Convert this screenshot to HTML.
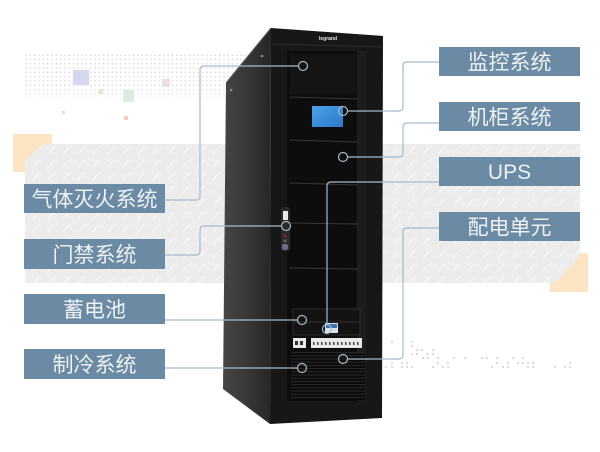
<!DOCTYPE html>
<html>
<head>
<meta charset="utf-8">
<style>
html,body{margin:0;padding:0;background:#fff;}
svg{display:block;}
.lbl{font-family:"Liberation Sans","Noto Sans CJK SC",sans-serif;font-size:21px;fill:#eef2f5;}
</style>
</head>
<body>
<svg width="600" height="452" viewBox="0 0 600 452" xmlns="http://www.w3.org/2000/svg">
  <defs>
    <pattern id="dots" x="25" y="54" width="4.3" height="4.3" patternUnits="userSpaceOnUse">
      <circle cx="1.2" cy="1.2" r="0.85" fill="#d6d6d6"/>
    </pattern>
    <linearGradient id="fade" x1="0" y1="0" x2="0" y2="1">
      <stop offset="0" stop-color="#fff" stop-opacity="1"/>
      <stop offset="0.7" stop-color="#fff" stop-opacity="0.9"/>
      <stop offset="1" stop-color="#fff" stop-opacity="0.3"/>
    </linearGradient>
    <mask id="fmask">
      <rect x="0" y="50" width="260" height="52" fill="url(#fade)"/>
    </mask>
    <pattern id="tex" x="0" y="0" width="15" height="13" patternUnits="userSpaceOnUse">
      <rect width="15" height="13" fill="#ececec"/>
      <line x1="3" y1="11" x2="9" y2="4" stroke="#fafafa" stroke-width="1"/>
      <line x1="10" y1="6" x2="12" y2="3" stroke="#f6f6f6" stroke-width="0.8"/>
    </pattern>
    <linearGradient id="side" x1="0" y1="0" x2="1" y2="0">
      <stop offset="0" stop-color="#454545"/>
      <stop offset="0.5" stop-color="#383838"/>
      <stop offset="1" stop-color="#262626"/>
    </linearGradient>
    <linearGradient id="scr" x1="0" y1="0" x2="1" y2="1">
      <stop offset="0" stop-color="#4aa2ea"/>
      <stop offset="1" stop-color="#2d78c8"/>
    </linearGradient>
    <pattern id="vent" x="0" y="352" width="4" height="3.2" patternUnits="userSpaceOnUse">
      <rect width="4" height="3.2" fill="#0b0b0b"/>
      <rect y="0" width="4" height="1.2" fill="#262626"/>
    </pattern>
  </defs>

  <!-- top-left dot grid -->
  <rect x="25" y="54" width="228" height="46" fill="url(#dots)" mask="url(#fmask)"/>
  <rect x="73" y="70" width="16" height="15" fill="#d5d6ef"/>
  <rect x="98" y="89" width="5" height="5" fill="#e6eac6"/>
  <rect x="123" y="90" width="11" height="12" fill="#d6ecdf"/>
  <rect x="162" y="79" width="8" height="8" fill="#ecdce4"/>
  <rect x="62" y="111" width="3" height="3" fill="#cfe0ef"/>
  <rect x="124" y="116" width="4" height="4" fill="#f6c9bf"/>

  <!-- orange squares -->
  <rect x="13" y="134" width="39" height="38" fill="#fde5c4"/>
  <rect x="550" y="253" width="38" height="39" fill="#fde5c4"/>

  <!-- gray textured band -->
  <polygon points="43,144 580,144 580,257 555,283 25,283 25,161" fill="url(#tex)"/>

  <!-- bottom right dots -->
  <g fill="#dcdcdc">
    <circle cx="392" cy="342" r="1.2"/><circle cx="412" cy="342" r="1.2"/><circle cx="412" cy="346" r="1.2"/>
    <circle cx="417" cy="350" r="1.2"/><circle cx="422" cy="350" r="1.2"/><circle cx="433" cy="350" r="1.2"/>
    <circle cx="412" cy="354" r="1.2"/><circle cx="417" cy="354" r="1.2"/><circle cx="427" cy="354" r="1.2"/><circle cx="433" cy="354" r="1.2"/>
    <circle cx="423" cy="358" r="1.2"/><circle cx="428" cy="358" r="1.2"/><circle cx="438" cy="358" r="1.2"/><circle cx="454" cy="358" r="1.2"/>
    <circle cx="465" cy="358" r="1.2"/><circle cx="482" cy="358" r="1.2"/><circle cx="487" cy="358" r="1.2"/><circle cx="497" cy="358" r="1.2"/>
    <circle cx="513" cy="358" r="1.2"/><circle cx="523" cy="358" r="1.2"/>
    <circle cx="392" cy="363" r="1.2"/><circle cx="402" cy="363" r="1.2"/><circle cx="407" cy="363" r="1.2"/><circle cx="438" cy="363" r="1.2"/>
    <circle cx="448" cy="363" r="1.2"/><circle cx="497" cy="363" r="1.2"/><circle cx="508" cy="363" r="1.2"/><circle cx="518" cy="363" r="1.2"/>
    <circle cx="523" cy="363" r="1.2"/><circle cx="528" cy="363" r="1.2"/><circle cx="533" cy="363" r="1.2"/><circle cx="570" cy="363" r="1.2"/>
    <circle cx="386" cy="367" r="1.2"/><circle cx="392" cy="367" r="1.2"/><circle cx="402" cy="367" r="1.2"/><circle cx="407" cy="367" r="1.2"/>
    <circle cx="412" cy="367" r="1.2"/><circle cx="433" cy="367" r="1.2"/><circle cx="443" cy="367" r="1.2"/><circle cx="448" cy="367" r="1.2"/>
    <circle cx="492" cy="367" r="1.2"/><circle cx="503" cy="367" r="1.2"/><circle cx="508" cy="367" r="1.2"/><circle cx="528" cy="367" r="1.2"/>
    <circle cx="533" cy="367" r="1.2"/><circle cx="555" cy="367" r="1.2"/><circle cx="565" cy="367" r="1.2"/><circle cx="570" cy="367" r="1.2"/>
  </g>

  <!-- cabinet side -->
  <polygon points="271,28 226,83 223,389 270,424" fill="url(#side)"/>
  <line x1="271" y1="28" x2="226" y2="83" stroke="#5a5a5a" stroke-width="1"/>
  <circle cx="262" cy="56" r="1.3" fill="#8a8a8a"/>
  <circle cx="231" cy="90" r="1.3" fill="#8a8a8a"/>

  <!-- cabinet front -->
  <polygon points="271,28 383,36 382,418 270,424" fill="#171717"/>
  <line x1="272" y1="44" x2="382" y2="47" stroke="#2c2c2c" stroke-width="1"/>
  <text x="328" y="40" font-family="Liberation Sans, sans-serif" font-size="5" font-weight="bold" fill="#e6e6e6" text-anchor="middle">legrand</text>
  <!-- inner door -->
  <rect x="287" y="51" width="79" height="350" fill="#0d0d0d"/>
  <rect x="357" y="51" width="9" height="350" fill="#1d1d1d"/>
  <rect x="290" y="54" width="66" height="40" fill="#141414"/>
  <g stroke="#383838" stroke-width="1">
    <line x1="290" y1="97" x2="358" y2="99"/>
    <line x1="290" y1="140" x2="358" y2="142"/>
    <line x1="290" y1="183" x2="358" y2="185"/>
    <line x1="290" y1="223" x2="358" y2="224"/>
    <line x1="290" y1="268" x2="358" y2="269"/>
  </g>
  <!-- screen -->
  <rect x="312" y="106" width="31" height="21" fill="url(#scr)"/>
  <!-- handle -->
  <rect x="281" y="207" width="9" height="44" rx="3" fill="#2a2a2a"/>
  <rect x="283" y="211" width="5" height="9" fill="#e8e8e8"/>
  <circle cx="285" cy="236" r="1.6" fill="#8a2020"/>
  <circle cx="285" cy="241" r="1.6" fill="#556655"/>
  <rect x="282" y="244" width="6" height="6" rx="2" fill="#6b6b90"/>
  <!-- UPS units -->
  <rect x="293" y="309" width="67" height="13" fill="#131313" stroke="#333" stroke-width="0.8"/>
  <rect x="293" y="322" width="67" height="13" fill="#131313" stroke="#333" stroke-width="0.8"/>
  <rect x="325" y="323" width="13" height="10" fill="#d9e2ec"/>
  <rect x="326" y="324" width="11" height="4" fill="#3f6fb3"/>
  <!-- breakers -->
  <rect x="293" y="338" width="13" height="10" fill="#e8e8e8"/>
  <rect x="295" y="341" width="3" height="4" fill="#333"/>
  <rect x="300" y="341" width="3" height="4" fill="#333"/>
  <rect x="311" y="338" width="51" height="10" fill="#e8e8e8"/>
  <g fill="#444">
    <rect x="313" y="342" width="1.5" height="3"/><rect x="317" y="342" width="1.5" height="3"/><rect x="321" y="342" width="1.5" height="3"/>
    <rect x="325" y="342" width="1.5" height="3"/><rect x="329" y="342" width="1.5" height="3"/><rect x="333" y="342" width="1.5" height="3"/>
    <rect x="337" y="342" width="1.5" height="3"/><rect x="341" y="342" width="1.5" height="3"/><rect x="345" y="342" width="1.5" height="3"/>
    <rect x="349" y="342" width="1.5" height="3"/><rect x="353" y="342" width="1.5" height="3"/><rect x="357" y="342" width="1.5" height="3"/>
  </g>
  <!-- vent -->
  <rect x="291" y="352" width="74" height="48" fill="url(#vent)"/>

  <!-- connectors -->
  <g fill="none" stroke="#a6bac9" stroke-width="1.2">
    <path d="M298.5,66 H204 Q200,66 200,70 V196 Q200,200 196,200 H165"/>
    <circle cx="303" cy="66" r="4.5"/>
    <path d="M281.5,226 H204 Q200,226 200,230 V251 Q200,255 196,255 H165"/>
    <circle cx="286" cy="226" r="4.5"/>
    <path d="M297.5,320 H165"/>
    <circle cx="302" cy="320" r="4.5"/>
    <path d="M297.5,368 H165"/>
    <circle cx="302" cy="368" r="4.5"/>
    <path d="M347.5,111 H399 Q403,111 403,107 V66 Q403,62 407,62 H439"/>
    <circle cx="343" cy="111" r="4.5"/>
    <path d="M347.5,157 H399 Q403,157 403,153 V127 Q403,123 407,123 H439"/>
    <circle cx="343" cy="157" r="4.5"/>
    <path d="M327,324.5 V186 Q327,182 331,182 H439"/>
    <circle cx="327" cy="329" r="4.5"/>
    <path d="M347.5,359 H399 Q403,359 403,355 V232 Q403,228 407,228 H439"/>
    <circle cx="343" cy="359" r="4.5"/>
  </g>

  <!-- labels left -->
  <g fill="#6b8ba4">
    <rect x="24" y="184" width="141" height="29"/>
    <rect x="24" y="239" width="141" height="30"/>
    <rect x="24" y="294" width="141" height="30"/>
    <rect x="24" y="349" width="141" height="30"/>
    <rect x="439" y="47" width="141" height="29"/>
    <rect x="439" y="102" width="141" height="29"/>
    <rect x="439" y="157" width="141" height="29"/>
    <rect x="439" y="212" width="141" height="29"/>
  </g>
  <g class="lbl" text-anchor="middle">
    <text x="94.5" y="206.5">气体灭火系统</text>
    <text x="94.5" y="262">门禁系统</text>
    <text x="94.5" y="317">蓄电池</text>
    <text x="94.5" y="372">制冷系统</text>
    <text x="509.5" y="69.5">监控系统</text>
    <text x="509.5" y="124.5">机柜系统</text>
    <text x="509.5" y="179">UPS</text>
    <text x="509.5" y="234.5">配电单元</text>
  </g>
</svg>
</body>
</html>
